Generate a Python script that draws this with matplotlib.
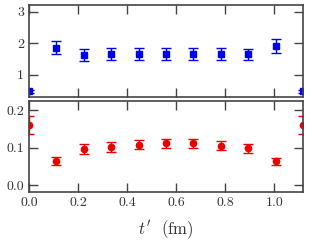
import numpy as np
import matplotlib
matplotlib.use('Agg')
import matplotlib.pyplot as plt

plt.rcParams['font.family'] = 'serif'
plt.rcParams['font.serif'] = ['cmr10', 'DejaVu Serif']
plt.rcParams['mathtext.fontset'] = 'cm'
plt.rcParams['axes.formatter.use_mathtext'] = True

# t' values (fm)
t = [0.0, 0.1118, 0.2236, 0.3354, 0.4472, 0.559, 0.6708, 0.7826, 0.8944, 1.0062, 1.118]

# upper panel (blue squares)
top_val = [0.47, 1.86, 1.62, 1.66, 1.67, 1.67, 1.67, 1.66, 1.64, 1.91, 0.47]
top_err = [0.05, 0.21, 0.19, 0.19, 0.19, 0.19, 0.19, 0.19, 0.19, 0.22, 0.05]

# lower panel (red circles)
bot_val = [0.159, 0.0645, 0.096, 0.102, 0.107, 0.111, 0.111, 0.105, 0.098, 0.063, 0.159]
bot_err = [0.024, 0.010, 0.013, 0.013, 0.012, 0.012, 0.012, 0.012, 0.012, 0.010, 0.024]

fig = plt.figure(figsize=(3.09, 2.45), dpi=100)
ax1 = fig.add_axes([0.094, 0.606, 0.887, 0.374])
ax2 = fig.add_axes([0.094, 0.216, 0.887, 0.370])

ax1.errorbar(t, top_val, yerr=top_err, fmt='s', color='#0000ee', ms=4.5,
             capsize=3.3, elinewidth=1, capthick=1)
ax2.errorbar(t, bot_val, yerr=bot_err, fmt='o', color='#ee0000', ms=4.5,
             capsize=3.3, elinewidth=1, capthick=1)

ax1.set_xlim(0, 1.118)
ax2.set_xlim(0, 1.118)
ax1.set_ylim(0.3, 3.22)
ax2.set_ylim(-0.019, 0.223)
ax1.set_yticks([1, 2, 3])
ax2.set_yticks([0.0, 0.1, 0.2])
ax1.set_xticks(np.arange(0, 1.05, 0.2))
ax2.set_xticks(np.arange(0, 1.05, 0.2))
ax1.set_xticklabels([])
ax2.set_xticklabels(['0.0', '0.2', '0.4', '0.6', '0.8', '1.0'])
ax1.set_yticklabels(['1', '2', '3'])
ax2.set_yticklabels(['0.0', '0.1', '0.2'])

for ax in (ax1, ax2):
    ax.tick_params(direction='in', length=6.5, width=1, top=True, right=True,
                   labelsize=10, color='#444444', labelcolor='#333333')
    for s in ax.spines.values():
        s.set_color('#444444')
        s.set_linewidth(1.2)

ax2.set_xlabel("$t'$  (fm)", fontsize=12, color='#333333', labelpad=7)

fig.savefig('out.png', dpi=100)
